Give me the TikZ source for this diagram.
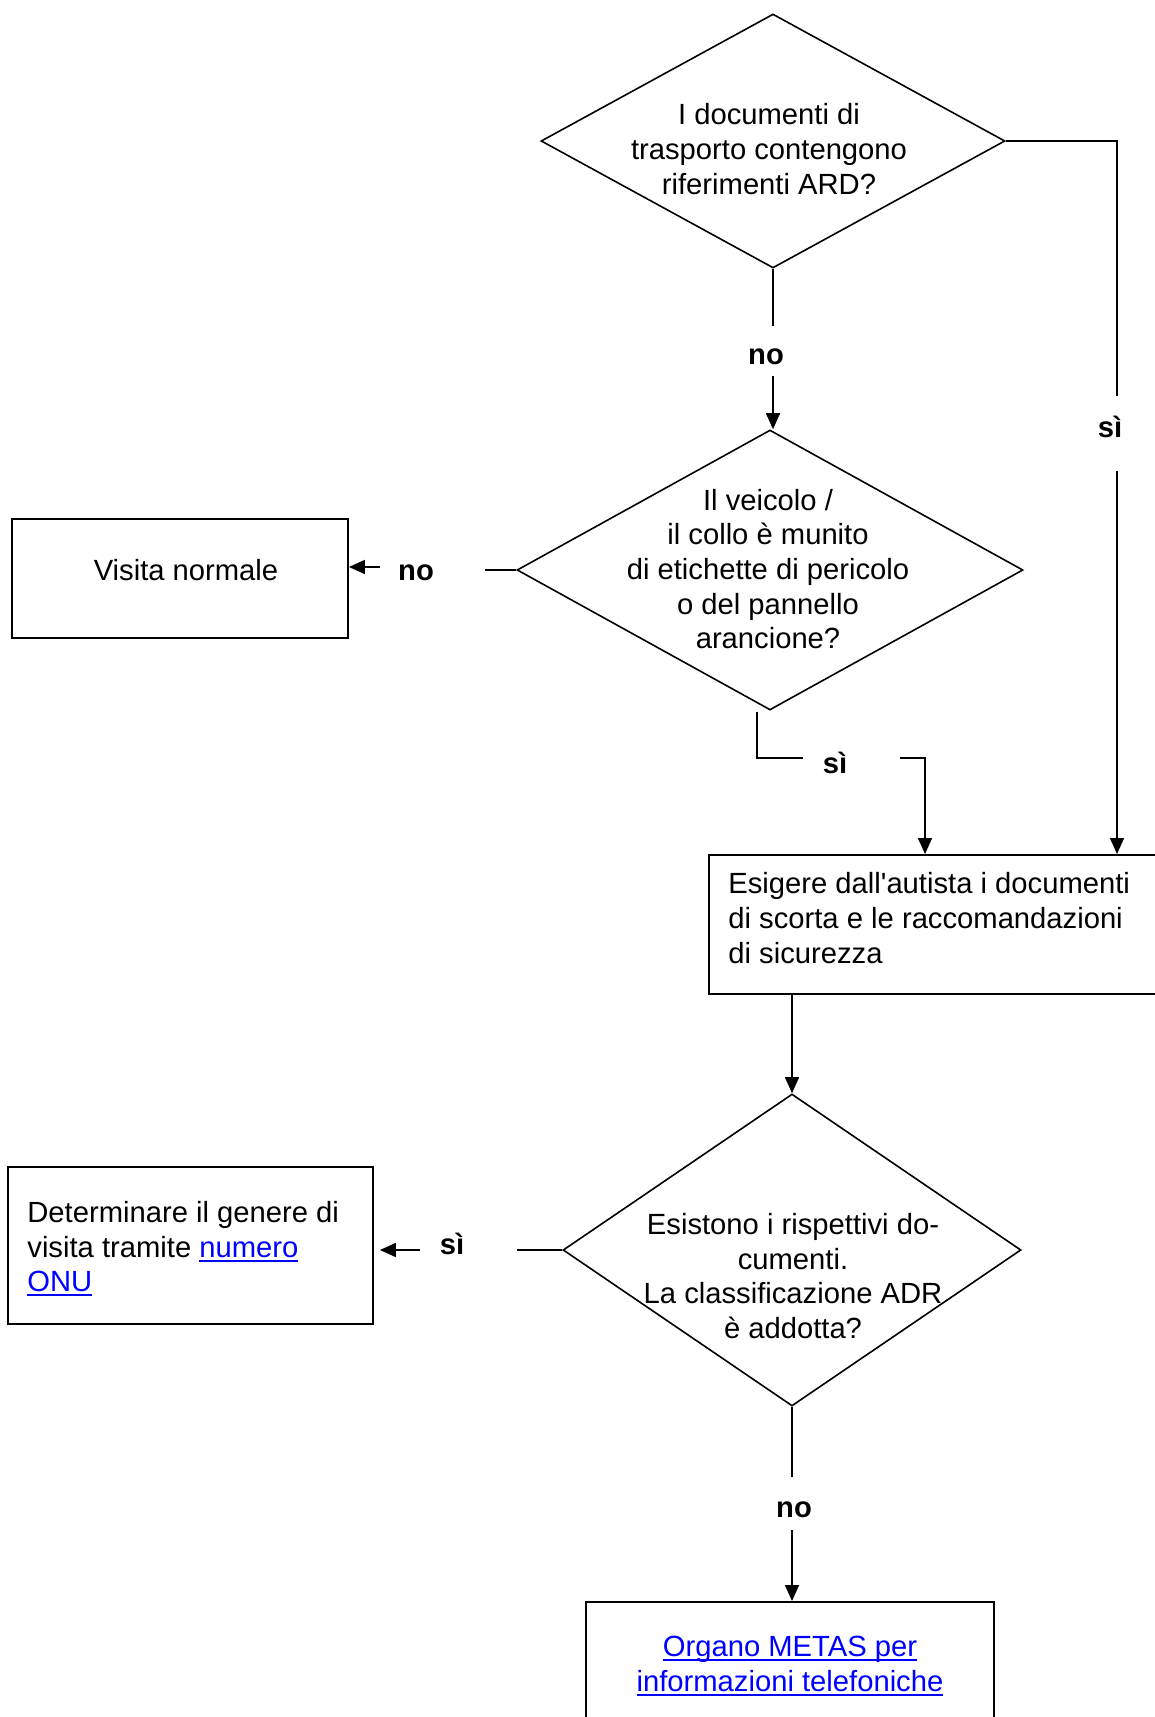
\documentclass[tikz,border=0pt]{standalone}
\usepackage{fontspec}
\setmainfont{Liberation Sans}[Ligatures=TeXOff]
\usetikzlibrary{shapes.geometric,arrows.meta}
\definecolor{linkblue}{RGB}{0,0,255}
% hyperlink-style text: blue with a thin underline just below the baseline
\newcommand\weblink[1]{{\color{linkblue}\setbox0\hbox{#1}\rlap{\rule[-2.2pt]{\wd0}{1.1pt}}\box0}}

\begin{document}
\begin{tikzpicture}[x=0.5pt,y=-0.5pt,
  every node/.style={font=\fontsize{14.6pt}{17.3pt}\selectfont, inner sep=0pt},
  decision/.style={draw, diamond, line width=0.8pt, inner sep=0pt},
  stepbox/.style={draw, rectangle, line width=0.9pt},
  conn/.style={line width=0.8pt},
  arr/.style={conn, -{Triangle[length=8pt,width=7pt]}},
  answer/.style={font=\fontsize{14.6pt}{17.3pt}\selectfont\bfseries},
  txt/.style={align=center}
]
\fill[white] (0,0) rectangle (1155,1717);
\useasboundingbox (0,0) rectangle (1155,1717);

% ---- decisions ----
\node[decision, minimum width=232pt, minimum height=127pt] (d1) at (773,141) {};
\node[txt] (d1t) at (769,149) {I documenti di\\trasporto contengono\\riferimenti ARD?};

\node[decision, minimum width=253pt, minimum height=140pt] (d2) at (770,570) {};
\node[txt] (d2t) at (768,569) {Il veicolo /\\il collo è munito\\di etichette di pericolo\\o del pannello\\arancione?};

\node[decision, minimum width=229pt, minimum height=156pt] (d3) at (792,1250) {};
\node[txt] (d3t) at (793,1276) {Esistono i rispettivi do-\\cumenti.\\La classificazione ADR\\è addotta?};

% ---- actions ----
\node[stepbox, minimum width=168pt, minimum height=59.5pt] (visita) at (180,578.5) {};
\node (visitat) at (186,570) {Visita normale};

\node[stepbox, anchor=north west, minimum width=227pt, minimum height=69.5pt] (esig) at (708,854) {};
\node[anchor=west, align=left] (esigt) at (728,918) {Esigere dall'autista i documenti\\di scorta e le raccomandazioni\\di sicurezza};

\node[stepbox, minimum width=182.5pt, minimum height=78.5pt] (determ) at (190.5,1245.5) {};
\node[anchor=west, align=left] (determt) at (27,1249) {Determinare il genere di\\visita tramite \weblink{numero}\\\weblink{ONU}};

\node[stepbox, anchor=north, minimum width=204pt, minimum height=70pt] (organo) at (790,1601) {};
\node[txt] (organot) at (790,1666) {\weblink{Organo METAS per}\\\weblink{informazioni telefoniche}};

% ---- answer labels ----
\node[answer] (no1) at (766,357) {no};
\node[answer] (si1) at (1110,427) {sì};
\node[answer] (no2) at (416,573) {no};
\node[answer] (si2) at (835,763) {sì};
\node[answer] (si3) at (452,1244) {sì};
\node[answer] (no3) at (794,1510) {no};

% ---- connectors ----
\coordinate (a1) at (773,326);
\coordinate (a2) at (773,376);
\draw[conn] (d1.south) -- (a1);
\draw[arr] (a2) -- (a2 |- d2.north);

\coordinate (b1) at (1117,141);
\coordinate (b2) at (1117,396);
\coordinate (b3) at (1117,471);
\draw[conn] (d1.east) -- (b1) -- (b2);
\draw[arr] (b3) -- (b3 |- esig.north);

\coordinate (c1) at (485,570);
\coordinate (c2) at (380,567);
\draw[conn] (d2.west) -- (c1);
\draw[arr] (c2) -- (c2 -| visita.east);

\coordinate (e0) at (757,712);
\coordinate (e1) at (757,758);
\coordinate (e2) at (803,758);
\coordinate (e3) at (900,758);
\coordinate (e4) at (925,758);
\draw[conn] (e0) -- (e1) -- (e2);
\draw[arr] (e3) -- (e4) -- (e4 |- esig.north);

\draw[arr] (esig.south -| d3.north) -- (d3.north);

\coordinate (f1) at (517,1250);
\coordinate (f2) at (420,1250);
\draw[conn] (d3.west) -- (f1);
\draw[arr, shorten >=3pt] (f2) -- (f2 -| determ.east);

\coordinate (g1) at (792,1477);
\coordinate (g2) at (792,1530);
\draw[conn] (d3.south) -- (g1);
\draw[arr] (g2) -- (g2 |- organo.north);
\end{tikzpicture}
\end{document}
